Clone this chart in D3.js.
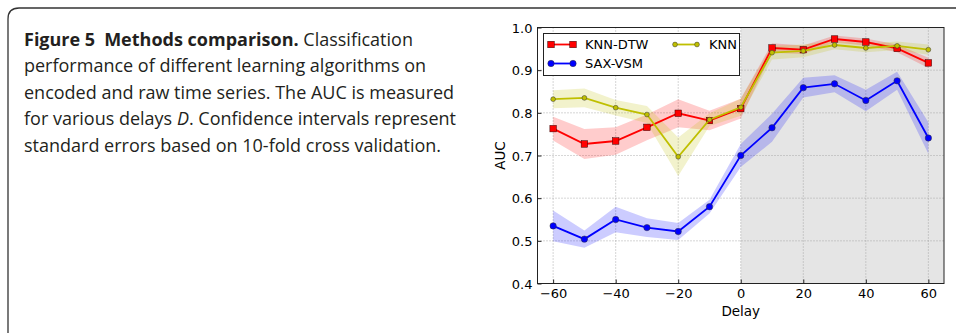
<!DOCTYPE html>
<html>
<head>
<meta charset="utf-8">
<script src="https://cdn.jsdelivr.net/npm/d3@7"></script>
<style>
  body { margin: 0; background: #fff; }
  svg { display: block; }
</style>
</head>
<body>
<div class="fig"></div>
<script>
var width = 956;
var height = 333;

// data
var delays = [-60, -50, -40, -30, -20, -10, 0, 10, 20, 30, 40, 50, 60];
var knnDtw   = [0.763, 0.727, 0.734, 0.766, 0.799, 0.782, 0.810, 0.952, 0.948, 0.973, 0.966, 0.951, 0.917];
var knnDtwSe = [0.028, 0.035, 0.032, 0.030, 0.033, 0.023, 0.023, 0.011, 0.010, 0.008, 0.008, 0.009, 0.012];
var saxVsm   = [0.535, 0.504, 0.550, 0.531, 0.522, 0.580, 0.700, 0.765, 0.859, 0.868, 0.829, 0.875, 0.741];
var saxVsmSe = [0.036, 0.020, 0.030, 0.022, 0.020, 0.016, 0.027, 0.033, 0.023, 0.020, 0.025, 0.021, 0.037];
var knn      = [0.832, 0.835, 0.812, 0.796, 0.697, 0.784, 0.813, 0.941, 0.945, 0.959, 0.952, 0.957, 0.948];
var knnSe    = [0.021, 0.022, 0.018, 0.020, 0.045, 0.015, 0.020, 0.016, 0.015, 0.010, 0.010, 0.010, 0.012];
var xTicks = [-60, -40, -20, 0, 20, 40, 60];
var yTicks = [0.4, 0.5, 0.6, 0.7, 0.8, 0.9, 1.0];

var captionLines = [
  "performance of different learning algorithms on",
  "encoded and raw time series. The AUC is measured",
  null,
  "standard errors based on 10-fold cross validation."
];

var svg = d3.select("div.fig").append("svg")
    .attr("width", width)
    .attr("height", height);

// frame around the figure
svg.append("path")
    .attr("d", "M8,333 L8,19 Q8,8 19,8 L956,8")
    .attr("fill", "none")
    .attr("stroke", "#333")
    .attr("stroke-width", 1.3);

// caption
var cap = svg.append("text")
    .attr("font-family", "'Open Sans', 'Noto Sans', sans-serif")
    .attr("font-size", 18)
    .attr("fill", "#231f20");

var l1 = cap.append("tspan").attr("x", 24).attr("y", 45.5);
l1.append("tspan").attr("font-weight", "bold").text("Figure 5\u2002Methods comparison.");
l1.append("tspan").text(" Classification");
cap.append("tspan").attr("x", 24).attr("y", 72).text(captionLines[0]);
cap.append("tspan").attr("x", 24).attr("y", 98.5).text(captionLines[1]);
var l4 = cap.append("tspan").attr("x", 24).attr("y", 125);
l4.append("tspan").text("for various delays ");
l4.append("tspan").attr("font-style", "italic").text("D");
l4.append("tspan").text(". Confidence intervals represent");
cap.append("tspan").attr("x", 24).attr("y", 151.5).text(captionLines[3]);

// plot
var x = d3.scaleLinear().domain([-65, 65]).range([537.5, 944]);
var y = d3.scaleLinear().domain([0.4, 1.0]).range([283.5, 27.5]);

var plot = svg.append("g");

plot.append("rect")
    .attr("x", x(0))
    .attr("y", y(1.0))
    .attr("width", x(65) - x(0))
    .attr("height", y(0.4) - y(1.0))
    .attr("fill", "#e5e5e5");

// grid
plot.selectAll("line.gx").data(xTicks).enter()
    .append("line")
    .attr("x1", function(d){ return x(d) })
    .attr("x2", function(d){ return x(d) })
    .attr("y1", y(0.4))
    .attr("y2", y(1.0))
    .attr("stroke", "#999")
    .attr("stroke-width", 0.8)
    .attr("stroke-dasharray", "1,2");

plot.selectAll("line.gy").data(yTicks.slice(1, -1)).enter()
    .append("line")
    .attr("x1", x(-65))
    .attr("x2", x(65))
    .attr("y1", function(d){ return y(d) })
    .attr("y2", function(d){ return y(d) })
    .attr("stroke", "#999")
    .attr("stroke-width", 0.8)
    .attr("stroke-dasharray", "1,2");

var series = [
  { name: "KNN-DTW", values: knnDtw, se: knnDtwSe, color: "#ff0000", marker: "square", size: 6.5 },
  { name: "SAX-VSM", values: saxVsm, se: saxVsmSe, color: "#0000ff", marker: "circle", size: 3.2 },
  { name: "KNN",     values: knn,    se: knnSe,    color: "#bfbf00", marker: "circle", size: 2.4 }
];

var area = d3.area()
    .x(function(d){ return x(d.x) })
    .y0(function(d){ return y(d.v - d.se) })
    .y1(function(d){ return y(d.v + d.se) });

var line = d3.line()
    .x(function(d){ return x(d.x) })
    .y(function(d){ return y(d.v) });

function pts(s) {
  return delays.map(function(dl, i){ return { x: dl, v: s.values[i], se: s.se[i] } });
}

series.forEach(function(s) {
  plot.append("path")
      .attr("d", area(pts(s)))
      .attr("fill", s.color)
      .attr("fill-opacity", 0.2);
});

function drawMarkers(g, s, data) {
  if (s.marker == "square") {
    g.selectAll("rect.m").data(data).enter()
        .append("rect")
        .attr("x", function(d){ return d[0] - s.size / 2 })
        .attr("y", function(d){ return d[1] - s.size / 2 })
        .attr("width", s.size)
        .attr("height", s.size)
        .attr("fill", s.color)
        .attr("stroke", "#300")
        .attr("stroke-width", 0.5);
  } else {
    g.selectAll("circle.m").data(data).enter()
        .append("circle")
        .attr("cx", function(d){ return d[0] })
        .attr("cy", function(d){ return d[1] })
        .attr("r", s.size)
        .attr("fill", s.color)
        .attr("stroke", "#333")
        .attr("stroke-width", 0.5);
  }
}

series.forEach(function(s) {
  var g = plot.append("g");
  g.append("path")
      .attr("d", line(pts(s)))
      .attr("fill", "none")
      .attr("stroke", s.color)
      .attr("stroke-width", 1.8);
  drawMarkers(g, s, pts(s).map(function(d){ return [x(d.x), y(d.v)] }));
});

// axes frame
plot.append("rect")
    .attr("x", x(-65))
    .attr("y", y(1.0))
    .attr("width", x(65) - x(-65))
    .attr("height", y(0.4) - y(1.0))
    .attr("fill", "none")
    .attr("stroke", "#222")
    .attr("stroke-width", 1);

var axisFont = "'DejaVu Sans', sans-serif";

var xAxis = d3.axisBottom(x).tickValues(xTicks).tickSizeInner(-4).tickSizeOuter(0)
    .tickFormat(function(d){ return d < 0 ? "\u2212" + (-d) : d });
var gx = svg.append("g").attr("transform", "translate(0," + y(0.4) + ")").call(xAxis);
gx.select(".domain").remove();
gx.selectAll("line").attr("stroke", "#222");
gx.selectAll("text").attr("font-family", axisFont).attr("font-size", 13).attr("fill", "#000").attr("dy", "0.88em");

var yAxis = d3.axisLeft(y).tickValues(yTicks).tickSizeInner(-4).tickSizeOuter(0)
    .tickFormat(d3.format(".1f"));
var gy = svg.append("g").attr("transform", "translate(" + x(-65) + ",0)").call(yAxis);
gy.select(".domain").remove();
gy.selectAll("line").attr("stroke", "#222");
gy.selectAll("text").attr("font-family", axisFont).attr("font-size", 13).attr("fill", "#000").attr("x", -5).attr("dy", "0.36em");

svg.append("text")
    .attr("x", (x(-65) + x(65)) / 2)
    .attr("y", 315.5)
    .attr("text-anchor", "middle")
    .attr("font-family", axisFont)
    .attr("font-size", 13.5)
    .text("Delay");

svg.append("text")
    .attr("transform", "translate(505," + (y(0.7)) + ") rotate(-90)")
    .attr("text-anchor", "middle")
    .attr("font-family", axisFont)
    .attr("font-size", 13.5)
    .text("AUC");

// legend
var legend = svg.append("g");
legend.append("rect")
    .attr("x", 543.5)
    .attr("y", 33.5)
    .attr("width", 196)
    .attr("height", 42)
    .attr("fill", "#fff")
    .attr("stroke", "#222")
    .attr("stroke-width", 1);

var legendPos = [[549, 44.5], [549, 63.5], [673, 44.5]];
series.forEach(function(s, i) {
  var p = legendPos[i];
  var g = legend.append("g");
  g.append("line")
      .attr("x1", p[0] + 2).attr("x2", p[0] + 24)
      .attr("y1", p[1]).attr("y2", p[1])
      .attr("stroke", s.color)
      .attr("stroke-width", 1.8);
  drawMarkers(g, s, [[p[0] + 2, p[1]], [p[0] + 24, p[1]]]);
  g.append("text")
      .attr("x", p[0] + 36)
      .attr("y", p[1])
      .attr("dy", "0.36em")
      .attr("font-family", axisFont)
      .attr("font-size", 13)
      .text(s.name);
});
</script>
</body>
</html>
